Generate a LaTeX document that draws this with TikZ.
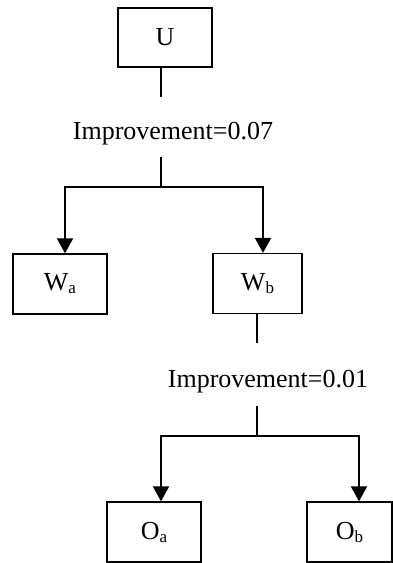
\documentclass[tikz,border=0pt]{standalone}
\usepackage{fontspec}
\setmainfont{Liberation Serif}
\usetikzlibrary{arrows.meta}
\newcommand{\subtxt}[1]{{\fontsize{17}{20}\selectfont\raisebox{-3pt}{#1}}}
\begin{document}
\begin{tikzpicture}[x=1pt,y=-1pt,
  box/.style={draw,line width=1.3pt,inner sep=0pt,font=\fontsize{26}{30}\selectfont},
  lbl/.style={inner sep=0pt,anchor=base,font=\fontsize{26}{30}\selectfont},
  thinline/.style={line width=1.2pt},
  arr/.style={line width=2pt,-{Triangle[width=16pt,length=15pt]}},
  hline/.style={line width=2pt}]
\useasboundingbox (0,0) rectangle (393,563);
% boxes
\node[box,minimum width=94pt,minimum height=59pt] (U) at (165,37.5) {U};
\node[box,minimum width=94pt,minimum height=60pt] (Wa) at (60,284) {W\subtxt{a}};
\node[box,minimum width=89pt,minimum height=60pt] (Wb) at (257.5,283.5) {W\subtxt{b}};
\node[box,minimum width=94pt,minimum height=60pt] (Oa) at (154,532) {O\subtxt{a}};
\node[box,minimum width=85pt,minimum height=60pt] (Ob) at (349.5,532) {O\subtxt{b}};
% labels
\node[lbl] (t1) at (173,139) {Improvement=0.07};
\node[lbl] (t2) at (268,387) {Improvement=0.01};
% junction coordinates
\coordinate (a1) at (161,97);
\coordinate (b1) at (161,157);
\coordinate (j1) at (161,187);
\coordinate (a2) at (257,343);
\coordinate (b2) at (257,406);
\coordinate (j2) at (257,436);
% connectors level 1
\draw[thinline] (U.south -| a1) -- (a1);
\draw[thinline] (b1) -- (j1);
\draw[arr] (j1) -| ([xshift=5pt]Wa.north);
\draw[arr] (j1) -| ([xshift=5.5pt]Wb.north);
% connectors level 2
\draw[thinline] (Wb.south -| a2) -- (a2);
\draw[thinline] (b2) -- (j2);
\draw[arr] (j2) -| ([xshift=7pt]Oa.north);
\draw[arr] (j2) -| ([xshift=9.5pt]Ob.north);
\end{tikzpicture}
\end{document}
